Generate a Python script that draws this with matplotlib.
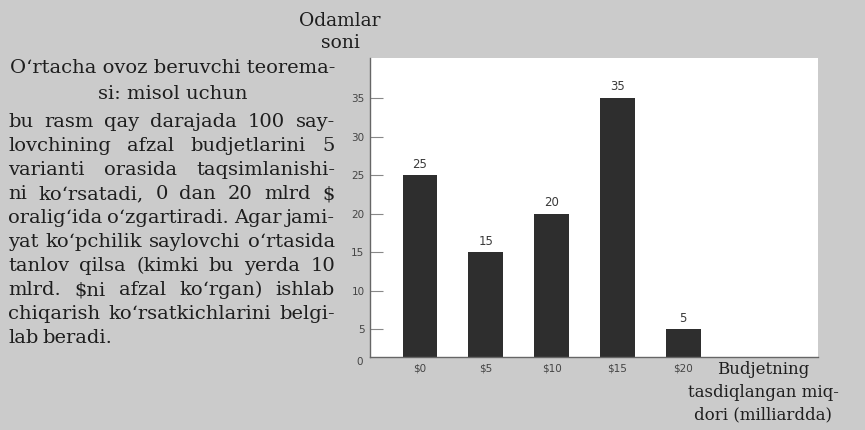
import matplotlib
matplotlib.use("Agg")
from matplotlib import pyplot as plt

# ma'lumotlar
budjetlar = ["$0", "$5", "$10", "$15", "$20"]
odamlar = [25, 15, 20, 35, 5]
y_belgilar = [5, 10, 15, 20, 25, 30, 35]

sarlavha = ["O‘rtacha ovoz beruvchi teorema-", "si: misol uchun"]
matn = [
    "bu rasm qay darajada 100 say-",
    "lovchining afzal budjetlarini 5",
    "varianti orasida taqsimlanishi-",
    "ni ko‘rsatadi, 0 dan 20 mlrd $",
    "oralig‘ida o‘zgartiradi. Agar jami-",
    "yat ko‘pchilik saylovchi o‘rtasida",
    "tanlov qilsa (kimki bu yerda 10",
    "mlrd. $ni afzal ko‘rgan) ishlab",
    "chiqarish ko‘rsatkichlarini belgi-",
    "lab beradi.",
]
x_nomi = ["Budjetning", "tasdiqlangan miq-", "dori (milliardda)"]
y_nomi = "Odamlar\nsoni"

fon = "#cbcbcb"
qora = "#2e2e2e"
serif = "DejaVu Serif"

W, H = 865, 430
fig = plt.figure(figsize=(W / 100, H / 100), dpi=100, facecolor=fon)

ax = fig.add_axes([370 / W, 1 - 357 / H, 448 / W, 299 / H])
ax.set_facecolor("white")
x = list(range(len(budjetlar)))
bars = ax.bar(x, odamlar, width=0.53, color=qora, zorder=2)
for b, v in zip(bars, odamlar):
    ax.text(b.get_x() + b.get_width() / 2, v + 0.6, str(v), ha="center", va="bottom",
            fontsize=8.5, color="#3a3a3a")
ax.set_xlim(-0.76, 6.05)
ax.set_ylim(1.4, 40.2)
ax.set_xticks(x)
ax.set_xticklabels(budjetlar, fontsize=7.5, color="#444444")
ax.set_yticks(y_belgilar)
ax.set_yticklabels([str(t) for t in y_belgilar], fontsize=7.5, color="#444444")
ax.tick_params(axis="x", length=0, pad=5)
ax.tick_params(axis="y", direction="in", length=9, width=0.8, color="#888888", pad=4)
for s in ["top", "right"]:
    ax.spines[s].set_visible(False)
for s in ["left", "bottom"]:
    ax.spines[s].set_color("#666666")
    ax.spines[s].set_linewidth(1.0)
ax.text(-0.015, 0.0, "0", transform=ax.transAxes, ha="right", va="top",
        fontsize=7.5, color="#444444", clip_on=False)

# o'q nomlari
fig.text(340 / W, 1 - 32 / H, y_nomi, ha="center", va="center", fontsize=13.5,
         family=serif, color="#1e1e1e", linespacing=1.25)
for i, s in enumerate(x_nomi):
    fig.text(763 / W, 1 - (370 + 22.5 * i) / H, s, ha="center", va="center",
             fontsize=12, family=serif, color="#1e1e1e")

# chap tomondagi matn
r = fig.canvas.get_renderer()
chap, ong = 8, 335


def qator(s, y, tekis=True, fs=14):
    sozlar = s.split(" ")
    tt = [fig.text(0, 1 - y / H, w, ha="left", va="center", fontsize=fs,
                   family=serif, color="#1e1e1e") for w in sozlar]
    en = [t.get_window_extent(r).width for t in tt]
    if tekis and len(sozlar) > 1:
        bo = (ong - chap - sum(en)) / (len(sozlar) - 1)
    else:
        bo = fs * 0.3
    px = chap
    for t, e in zip(tt, en):
        t.set_x(px / W)
        px += e + bo


for i, s in enumerate(sarlavha):
    fig.text((chap + ong) / 2 / W + 0.001, 1 - (68 + 26 * i) / H, s, ha="center", va="center",
             fontsize=14, family=serif, color="#1e1e1e")

for i, s in enumerate(matn):
    qator(s, 122 + 24 * i, tekis=(i < len(matn) - 1))

fig.savefig("out.png", dpi=100, facecolor=fon)
